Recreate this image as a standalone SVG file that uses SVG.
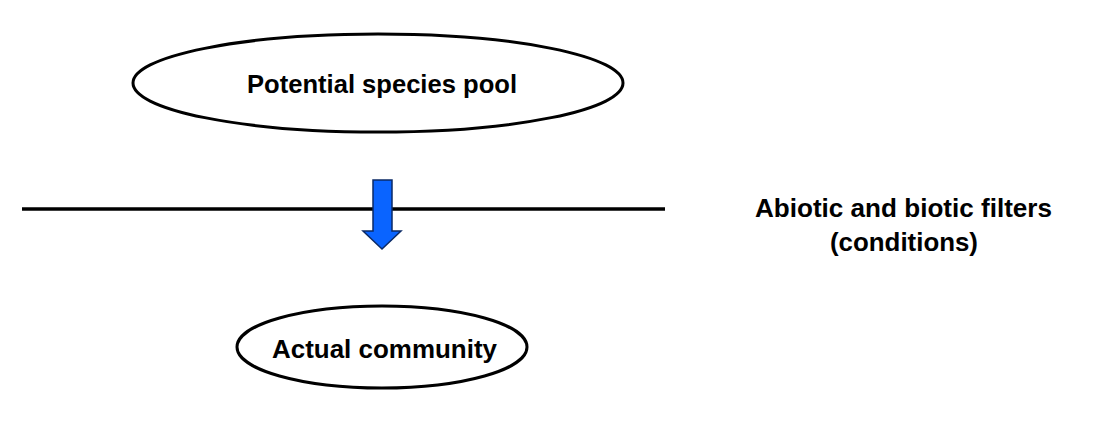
<svg xmlns="http://www.w3.org/2000/svg" width="1095" height="441" viewBox="0 0 1095 441">
<style>
.node{fill:#ffffff;stroke:#000000;stroke-width:3}
.lbl{font-family:"Liberation Sans",Arial,sans-serif;font-weight:bold;font-size:26px;fill:#000000;text-anchor:middle}
</style>
<rect width="1095" height="441" fill="#ffffff"/>
<g id="connectors">
<line x1="22" y1="209" x2="665" y2="209" stroke="#000000" stroke-width="3.5"/>
<polygon points="373,180 392,180 392,231 401,231 382,249 363,231 373,231" fill="#0a64ff" stroke="#0b2a66" stroke-width="1.5"/>
</g>
<g id="pool">
<ellipse class="node" cx="378" cy="83" rx="245" ry="49"/>
<text class="lbl" x="382" y="93" textLength="270" lengthAdjust="spacingAndGlyphs">Potential species pool</text>
</g>
<g id="community">
<ellipse class="node" cx="382" cy="347" rx="145" ry="41"/>
<text class="lbl" x="384.5" y="358" textLength="225" lengthAdjust="spacingAndGlyphs">Actual community</text>
</g>
<g id="filters">
<text class="lbl" x="903.5" y="217" textLength="297" lengthAdjust="spacingAndGlyphs">Abiotic and biotic filters</text>
<text class="lbl" x="904" y="251" textLength="148" lengthAdjust="spacingAndGlyphs">(conditions)</text>
</g>
</svg>
